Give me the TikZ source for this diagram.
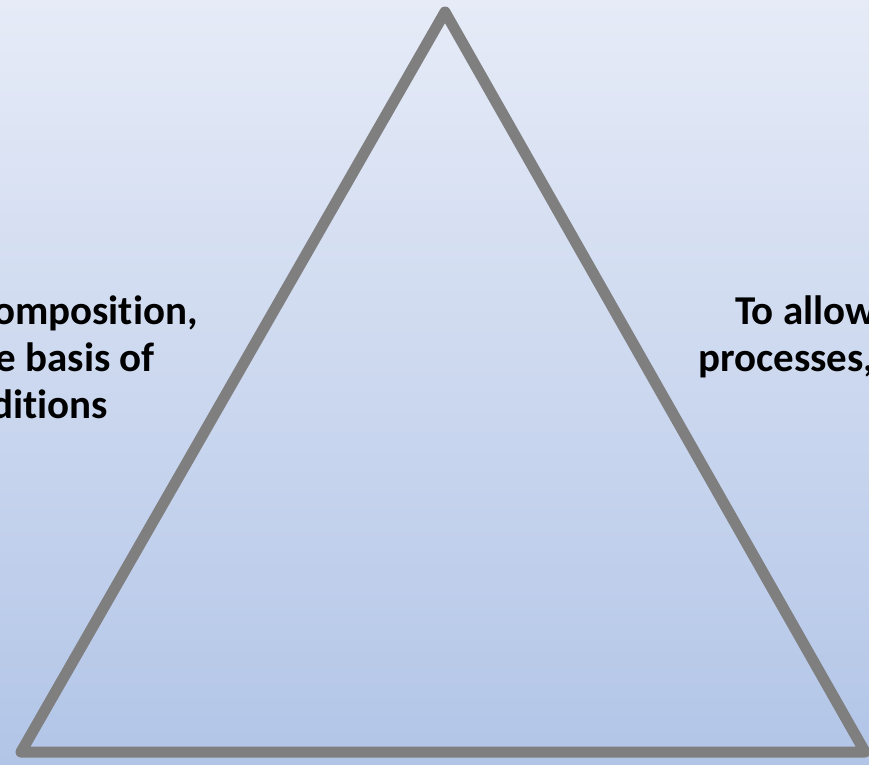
\documentclass[tikz,border=0pt]{standalone}
\usepackage{fontspec}
\setmainfont[Ligatures={NoCommon}]{Carlito}
\definecolor{bgtop}{HTML}{E6EBF7}
\definecolor{bgbot}{HTML}{B2C5E7}
\definecolor{tri}{HTML}{7F7F7F}
\tikzset{
  lbl/.style={font=\bfseries\fontsize{41}{47}\selectfont, text=black, inner sep=0pt},
  edge/.style={draw=tri, line width=11pt, line join=round, line cap=round}
}
\begin{document}
\begin{tikzpicture}[x=1pt,y=-1pt]
\useasboundingbox (0,0) rectangle (869,764);
\clip (0,0) rectangle (869,764);
\shade[top color=bgtop, bottom color=bgbot] (0,0) rectangle (869,764);
\coordinate (A) at (445,12);
\coordinate (B) at (21,752);
\coordinate (C) at (865,752);
\draw[edge] (A) -- (B) -- (C) -- cycle;
\node[lbl, anchor=base east] (l1) at (198,324) {omposition,};
\node[lbl, anchor=base east] (l2) at (155,371) {e basis of};
\node[lbl, anchor=base east] (l3) at (108,418) {ditions};
\node[lbl, anchor=base west] (r1) at (735,324) {To allow};
\node[lbl, anchor=base west] (r2) at (698,371) {processes,};
\end{tikzpicture}
\end{document}
